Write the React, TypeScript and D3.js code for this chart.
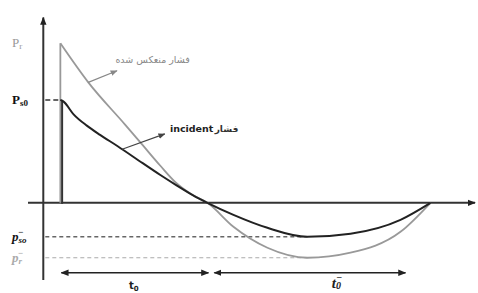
import React, { useRef, useEffect } from 'react';
import * as d3 from 'd3';

const W = 478;
const H = 293;

// time in units of t0 (0 = arrival), pressure in units of Ps0
const reflectedTime = [0, 0.19, 0.44, 0.56, 0.68, 0.79, 0.9, 1, 1.177, 1.408, 1.68, 1.973, 2.313, 2.517];
const reflectedPressure = [1.55, 1.17, 0.76, 0.56, 0.36, 0.19, 0.075, 0, -0.233, -0.437, -0.534, -0.485, -0.282, 0];

const incidentTime = [0, 0.02, 0.09, 0.18, 0.27, 0.39, 0.56, 0.68, 0.79, 0.9, 1, 1.177, 1.408, 1.68, 1.973, 2.313, 2.517];
const incidentPressure = [1, 0.985, 0.86, 0.75, 0.66, 0.55, 0.385, 0.27, 0.17, 0.075, 0, -0.117, -0.243, -0.33, -0.3, -0.165, 0];

// characteristic levels / durations
const peakIncident = 1; // Ps0
const peakReflected = 1.55; // Pr
const minIncident = -0.33; // p-so
const minReflected = -0.534; // p-r
const minTime = 1.68;
const posPhase = [0, 1]; // t0
const negPhase = [1.04, 2.34]; // t0-

const reflectedNote = 'فشار منعکس شده';
const incidentNote = ['incident', 'فشار'];

const BlastChart = () => {
  const chartRef = useRef(null);

  useEffect(() => {
    if (!chartRef.current) return;
    const svg = d3.select(chartRef.current);
    svg.selectAll('*').remove();

    const x = d3.scaleLinear().domain([-0.22, 2.84]).range([28, 478]);
    const y = d3.scaleLinear().domain([-0.75, 1.825]).range([280, 15]);
    const yAxisT = -0.116;

    // arrow markers
    const defs = svg.append('defs');
    const marker = (id, color, size) =>
      defs
        .append('marker')
        .attr('id', id)
        .attr('viewBox', '0 0 10 10')
        .attr('refX', 9)
        .attr('refY', 5)
        .attr('markerWidth', size)
        .attr('markerHeight', size)
        .attr('markerUnits', 'userSpaceOnUse')
        .attr('orient', 'auto-start-reverse')
        .append('path')
        .attr('d', 'M0,1 L10,5 L0,9 z')
        .attr('fill', color);
    marker('ah', '#222', 8);
    marker('ahGray', '#888', 7);
    marker('ahDark', '#444', 7);

    // axes
    svg.append('line')
      .attr('x1', x(-0.22)).attr('x2', x(2.82))
      .attr('y1', y(0)).attr('y2', y(0))
      .attr('stroke', '#333').attr('stroke-width', 2)
      .attr('marker-end', 'url(#ah)');
    svg.append('line')
      .attr('x1', x(yAxisT)).attr('x2', x(yAxisT))
      .attr('y1', y(-0.75)).attr('y2', y(1.8))
      .attr('stroke', '#333').attr('stroke-width', 2)
      .attr('marker-end', 'url(#ah)');

    // dashed reference levels
    svg.append('line')
      .attr('x1', x(yAxisT) + 2).attr('x2', x(0))
      .attr('y1', y(peakIncident)).attr('y2', y(peakIncident))
      .attr('stroke', '#333').attr('stroke-width', 1.5).attr('stroke-dasharray', '5,3');
    svg.append('line')
      .attr('x1', x(yAxisT) + 2).attr('x2', x(minTime))
      .attr('y1', y(minIncident)).attr('y2', y(minIncident))
      .attr('stroke', '#666').attr('stroke-width', 1.5).attr('stroke-dasharray', '4,3');
    svg.append('line')
      .attr('x1', x(yAxisT) + 2).attr('x2', x(minTime))
      .attr('y1', y(minReflected)).attr('y2', y(minReflected))
      .attr('stroke', '#aaa').attr('stroke-width', 1.2).attr('stroke-dasharray', '4,3');

    const line = d3.line().x((d) => x(d[0])).y((d) => y(d[1])).curve(d3.curveMonotoneX);

    // reflected pressure
    svg.append('line')
      .attr('x1', x(0)).attr('x2', x(0))
      .attr('y1', y(0)).attr('y2', y(peakReflected))
      .attr('stroke', '#999').attr('stroke-width', 1.8);
    svg.append('path')
      .datum(reflectedTime.map((t, i) => [t, reflectedPressure[i]]))
      .attr('d', line)
      .attr('fill', 'none').attr('stroke', '#999').attr('stroke-width', 1.8);

    // incident pressure
    svg.append('line')
      .attr('x1', x(0.012)).attr('x2', x(0.012))
      .attr('y1', y(-0.01)).attr('y2', y(peakIncident))
      .attr('stroke', '#333').attr('stroke-width', 2);
    svg.append('path')
      .datum(incidentTime.map((t, i) => [t, incidentPressure[i]]))
      .attr('d', line)
      .attr('fill', 'none').attr('stroke', '#222').attr('stroke-width', 2);

    // duration arrows
    const arrowY = y(-0.68);
    [posPhase, negPhase].forEach((p) => {
      svg.append('line')
        .attr('x1', x(p[0]) + 1).attr('x2', x(p[1]) + 1)
        .attr('y1', arrowY).attr('y2', arrowY)
        .attr('stroke', '#222').attr('stroke-width', 1.5)
        .attr('marker-start', 'url(#ah)').attr('marker-end', 'url(#ah)');
    });

    // annotations
    svg.append('line')
      .attr('x1', x(0.19)).attr('y1', y(1.17))
      .attr('x2', x(0.385)).attr('y2', y(1.283))
      .attr('stroke', '#888').attr('stroke-width', 1.2)
      .attr('marker-end', 'url(#ahGray)');
    svg.append('text')
      .attr('x', x(0.88)).attr('y', y(1.36))
      .attr('text-anchor', 'end')
      .attr('font-family', 'DejaVu Sans')
      .attr('font-size', 9.5)
      .attr('fill', '#888')
      .text(reflectedNote);

    svg.append('line')
      .attr('x1', x(0.42)).attr('y1', y(0.52))
      .attr('x2', x(0.71)).attr('y2', y(0.67))
      .attr('stroke', '#444').attr('stroke-width', 1.2)
      .attr('marker-end', 'url(#ahDark)');
    svg.append('text')
      .attr('x', x(0.745)).attr('y', y(0.69))
      .attr('font-family', 'DejaVu Sans')
      .attr('font-weight', 'bold')
      .attr('font-size', 9.5)
      .attr('fill', '#222')
      .text(incidentNote[0]);
    svg.append('text')
      .attr('x', x(1.21)).attr('y', y(0.69))
      .attr('text-anchor', 'end')
      .attr('font-family', 'DejaVu Sans')
      .attr('font-weight', 'bold')
      .attr('font-size', 9)
      .attr('fill', '#333')
      .text(incidentNote[1]);

    // level labels
    const label = (py, main, sub, color, weight, italic, sup) => {
      const t = svg.append('text')
        .attr('x', 12).attr('y', y(py) + 4)
        .attr('font-family', 'Liberation Serif')
        .attr('font-size', 13)
        .attr('font-weight', weight)
        .attr('font-style', italic ? 'italic' : 'normal')
        .attr('fill', color);
      t.append('tspan').text(main);
      t.append('tspan').attr('font-size', 9).attr('dy', 2).text(sub);
      if (sup) {
        t.append('tspan').attr('font-size', 9).attr('dx', -sub.length * 4.2).attr('dy', -8).text('−');
      }
    };
    label(peakReflected, 'P', 'r', '#999', 'normal', false, false);
    label(peakIncident, 'P', 's0', '#111', 'bold', false, false);
    label(minIncident, 'p', 'so', '#111', 'bold', true, true);
    label(minReflected, 'p', 'r', '#aaa', 'bold', true, true);

    // duration labels
    const t0 = svg.append('text')
      .attr('x', x(0.5)).attr('y', 289)
      .attr('text-anchor', 'middle')
      .attr('font-family', 'DejaVu Sans')
      .attr('font-weight', 'bold')
      .attr('font-size', 10)
      .attr('fill', '#222');
    t0.append('tspan').text('t');
    t0.append('tspan').attr('font-size', 7).attr('dy', 2).text('0');
    const t1 = svg.append('text')
      .attr('x', x(1.88)).attr('y', 288)
      .attr('text-anchor', 'middle')
      .attr('font-family', 'Liberation Serif')
      .attr('font-weight', 'bold')
      .attr('font-style', 'italic')
      .attr('font-size', 15)
      .attr('fill', '#222');
    t1.append('tspan').text('t');
    t1.append('tspan').attr('font-size', 10).attr('dy', 1).text('0');
    t1.append('tspan').attr('font-size', 10).attr('dx', -5).attr('dy', -8).text('−');
  }, []);

  return (
    <svg
      ref={chartRef}
      width={W}
      height={H}
      style={{ position: 'absolute', left: 0, top: 0, background: '#fff' }}
    />
  );
};

export default function App() {
  return <BlastChart />;
}
